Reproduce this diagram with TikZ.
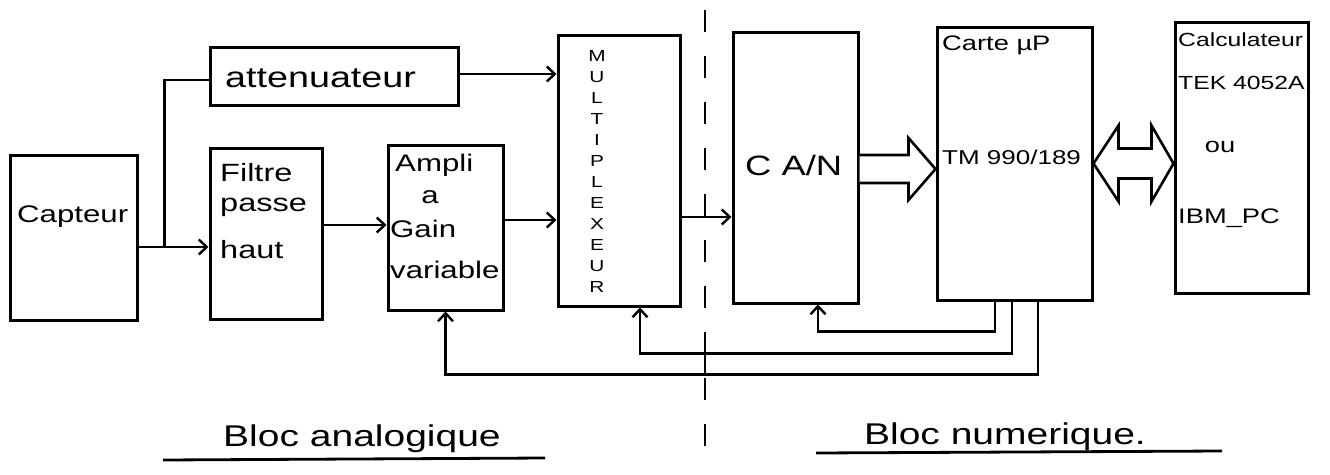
\documentclass[tikz,border=0pt]{standalone}
\usepackage{fontspec}
\usetikzlibrary{arrows.meta,calc}
\newfontfamily\hand[FakeStretch=1.3]{Liberation Sans}
\newcommand{\fs}[1]{\fontsize{#1}{#1}\selectfont}
\begin{document}
\begin{tikzpicture}[x=1pt,y=-1pt,
  blk/.style={draw, line width=3pt, rectangle, inner sep=0pt},
  txt/.style={font=\hand, inner sep=0pt},
  arr/.style={line width=2.4pt, -{Straight Barb[length=8pt,width=15pt,line width=2.4pt]}},
  wire/.style={line width=2.4pt},
  hollow/.style={draw, line width=2.6pt, line join=miter, fill=white},
  sep/.style={line width=2.4pt, dash pattern=on 22pt off 24pt},
  uline/.style={line width=2.8pt}]
\useasboundingbox[fill=white] (0,0) rectangle (1330,474);

% boxes
\node[blk, minimum width=127pt, minimum height=165pt] (cap)   at (73.5,237.5) {};
\node[blk, minimum width=112pt, minimum height=171pt] (filt)  at (266,233.5) {};
\node[blk, minimum width=248pt, minimum height=58pt]  (att)   at (334,76) {};
\node[blk, minimum width=115pt, minimum height=165pt] (amp)   at (445.5,227.5) {};
\node[blk, minimum width=122pt, minimum height=271pt] (mux)   at (619,170.5) {};
\node[blk, minimum width=125pt, minimum height=271pt] (can)   at (795.5,167.5) {};
\node[blk, minimum width=155pt, minimum height=273pt] (carte) at (1014.5,163.5) {};
\node[blk, minimum width=133pt, minimum height=271pt] (calc)  at (1241.5,157.5) {};

% texts
\node[txt, anchor=west, font=\hand\fs{24}] (tcap) at (17,217) {Capteur};
\node[txt, anchor=west, font=\hand\fs{29}] (tatt) at (225,78) {attenuateur};
\node[txt, anchor=west, font=\hand\fs{25}] (tf1) at (220,173) {Filtre};
\node[txt, anchor=west, font=\hand\fs{25}] (tf2) at (220,207) {passe};
\node[txt, anchor=west, font=\hand\fs{25}] (tf3) at (220,250) {haut};
\node[txt, anchor=west, font=\hand\fs{24}] (ta1) at (395,165) {Ampli};
\node[txt, font=\hand\fs{24}] (ta2) at (430,197) {a};
\node[txt, anchor=west, font=\hand\fs{24}] (ta3) at (390,229) {Gain};
\node[txt, anchor=west, font=\hand\fs{24}] (ta4) at (390,270) {variable};
\node[txt, anchor=north, align=center, font=\hand\fs{16}] (tmux) at (597,50)
  {M\\[5pt]U\\[5pt]L\\[5pt]T\\[5pt]I\\[5pt]P\\[5pt]L\\[5pt]E\\[5pt]X\\[5pt]E\\[5pt]U\\[5pt]R};
\node[txt, anchor=west, font=\hand\fs{28}] (tcan) at (745,165) {C A/N};
\node[txt, anchor=west, font=\hand\fs{21}] (tc1) at (942,45) {Carte µP};
\node[txt, anchor=west, font=\hand\fs{20}] (tc2) at (942,157) {TM 990/189};
\node[txt, anchor=west, font=\hand\fs{19}] (tk1) at (1178,40) {Calculateur};
\node[txt, anchor=west, font=\hand\fs{19}] (tk2) at (1178,83) {TEK 4052A};
\node[txt, font=\hand\fs{21}] (tk3) at (1220,147) {ou};
\node[txt, anchor=west, font=\hand\fs{21}] (tk4) at (1178,218) {IBM\_PC};

% forward signal path
\coordinate (p0) at ([yshift=-9.5pt]cap.east);
\coordinate (sp) at ($(p0)+(26,0)$);
\draw[arr] (p0) -- (p0 -| filt.west);
\draw[wire] (sp) |- ([yshift=-4pt]att.west);
\coordinate (pa) at ([yshift=2pt]att.east);
\draw[arr] (pa) -- (pa -| mux.west);
\coordinate (p1) at ([yshift=8.5pt]filt.east);
\draw[arr] (p1) -- (p1 -| amp.west);
\coordinate (p2) at ([yshift=7.5pt]amp.east);
\draw[arr] (p2) -- (p2 -| mux.west);
\coordinate (p3) at ([yshift=-46.5pt]mux.east);
\draw[arr] (p3) -- (p3 -| can.west);

% hollow bus arrows
\coordinate (ca) at ([yshift=-1.5pt]can.east);
\draw[hollow] ($(ca)+(0,-14)$) -- ($(ca)+(49,-14)$) -- ($(ca)+(49,-31)$)
  -- (carte.west |- ca) -- ($(ca)+(49,31)$) -- ($(ca)+(49,14)$) -- ($(ca)+(0,14)$);
\coordinate (da) at (carte.east);
\draw[hollow] (da) -- ($(da)+(25,-38)$) -- ($(da)+(25,-15)$) -- ($(da)+(58,-15)$)
  -- ($(da)+(58,-38)$) -- (calc.west |- da) -- ($(da)+(58,38)$) -- ($(da)+(58,15)$)
  -- ($(da)+(25,15)$) -- ($(da)+(25,38)$) -- cycle;

% feedback (control) lines
\draw[arr] ([xshift=-19.5pt]carte.south) -- ++(0,30) -| ([xshift=22.5pt]can.south);
\draw[arr] ([xshift=-2.5pt]carte.south) -- ++(0,52) -| ([xshift=21pt]mux.south);
\draw[arr] ([xshift=23.5pt]carte.south) -- ++(0,73) -| (amp.south);
\coordinate (j1) at (705,352);
\coordinate (j2) at (705,373);
\draw[wire] (j1) -- (j2);

% separation line
\coordinate (dtop) at (705,10);
\coordinate (dbot) at (705,458);
\draw[sep] (dtop) -- (dbot);

% block labels
\node[txt, anchor=base, font=\hand\fs{30}] (la) at (362,446) {Bloc analogique};
\coordinate (ua1) at (163,460);
\coordinate (ua2) at (545,458);
\draw[uline] (ua1) -- (ua2);
\node[txt, anchor=base, font=\hand\fs{30}] (ln) at (1005,444) {Bloc numerique.};
\coordinate (un1) at (816,453);
\coordinate (un2) at (1222,451);
\draw[uline] (un1) -- (un2);
\end{tikzpicture}
\end{document}
